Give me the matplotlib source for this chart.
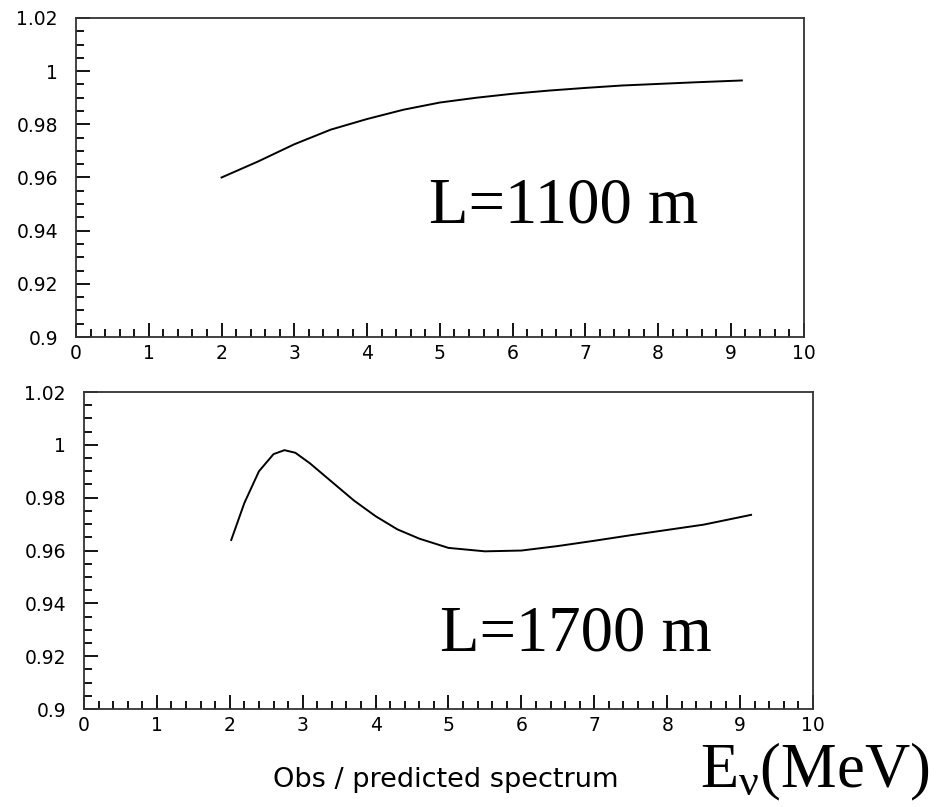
import matplotlib.pyplot as plt
from matplotlib.ticker import MultipleLocator, FixedFormatter, FixedLocator

# ---------------------------------------------------------------------------
# 곡선 데이터
# ---------------------------------------------------------------------------
E_1100 = [2.0, 2.5, 3.0, 3.5, 4.0, 4.5, 5.0, 5.5, 6.0, 6.5, 7.0, 7.5, 8.0, 8.5, 9.15]
R_1100 = [0.960, 0.966, 0.9725, 0.978, 0.982, 0.9855, 0.9882, 0.990, 0.9915,
          0.9927, 0.9937, 0.9946, 0.9952, 0.9958, 0.9965]

E_1700 = [2.02, 2.2, 2.4, 2.6, 2.75, 2.9, 3.1, 3.4, 3.7, 4.0, 4.3, 4.6, 5.0,
          5.5, 6.0, 6.5, 7.0, 7.5, 8.0, 8.5, 9.15]
R_1700 = [0.964, 0.978, 0.990, 0.9965, 0.998, 0.997, 0.993, 0.986, 0.979, 0.973,
          0.968, 0.9645, 0.961, 0.9597, 0.960, 0.9617, 0.9637, 0.9658, 0.9678,
          0.9698, 0.9735]

X_TICKS = [0, 1, 2, 3, 4, 5, 6, 7, 8, 9, 10]
Y_TICKS = [0.9, 0.92, 0.94, 0.96, 0.98, 1.0, 1.02]
Y_LABELS = ["0.9", "0.92", "0.94", "0.96", "0.98", "1", "1.02"]

PANELS = [
    {"pos": [0.080, 0.5824, 0.766, 0.3953], "x": E_1100, "y": R_1100,
     "label": "L=1100 m", "lx": 0.452, "ly": 0.7237},
    {"pos": [0.0884, 0.1214, 0.7674, 0.3928], "x": E_1700, "y": R_1700,
     "label": "L=1700 m", "lx": 0.463, "ly": 0.1945},
]

plt.rcParams["font.family"] = ["DejaVu Sans"]
plt.rcParams["mathtext.fontset"] = "custom"
plt.rcParams["mathtext.rm"] = "Liberation Serif"
plt.rcParams["mathtext.it"] = "Liberation Serif"

fig = plt.figure(figsize=(9.5, 8.07), dpi=100)

for p in PANELS:
    ax = fig.add_axes(p["pos"])
    ax.plot(p["x"], p["y"], color="black", lw=1.4)
    ax.set_xlim(0, 10)
    ax.set_ylim(0.9, 1.02)
    ax.xaxis.set_major_locator(FixedLocator(X_TICKS))
    ax.xaxis.set_minor_locator(MultipleLocator(0.2))
    ax.yaxis.set_major_locator(FixedLocator(Y_TICKS))
    ax.yaxis.set_major_formatter(FixedFormatter(Y_LABELS))
    ax.yaxis.set_minor_locator(MultipleLocator(0.005))
    ax.tick_params(which="major", direction="in", length=10, width=1.3,
                   labelsize=13.5, top=False, right=False)
    ax.tick_params(which="minor", direction="in", length=6, width=1.3,
                   top=False, right=False)
    ax.tick_params(axis="x", pad=5)
    ax.tick_params(axis="y", pad=13)
    for s in ax.spines.values():
        s.set_linewidth(1.3)
        s.set_color("#333333")
    fig.text(p["lx"], p["ly"], p["label"], family="Liberation Serif",
             fontsize=46.5, ha="left", va="baseline")

fig.text(0.4695, 0.0248, "Obs / predicted spectrum", fontsize=19.5,
         ha="center", va="baseline")
fig.text(0.737, 0.024, r"E$_{\mathrm{\nu}}$(MeV)", family="Liberation Serif",
         fontsize=45, ha="left", va="baseline")

fig.savefig("out.png", dpi=100)
